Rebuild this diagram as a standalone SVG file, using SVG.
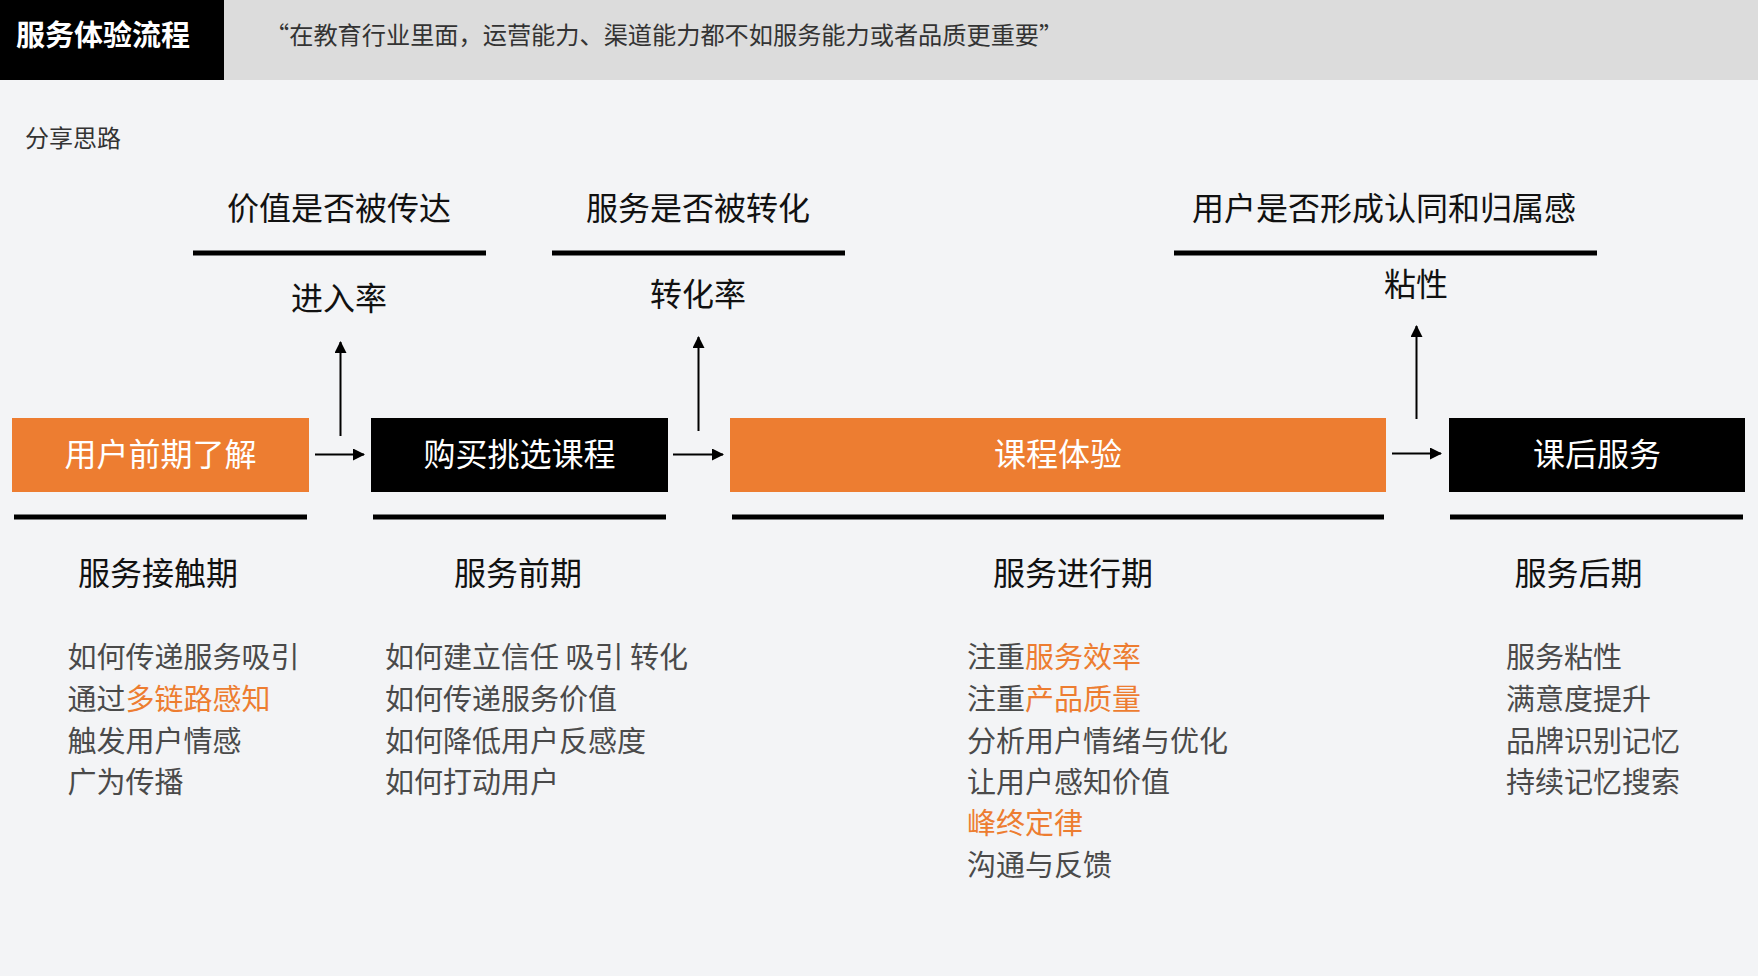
<svg xmlns="http://www.w3.org/2000/svg" width="1758" height="976" viewBox="0 0 1758 976">
<defs>
<style>
text{font-family:"Noto Sans CJK SC","Noto Sans",sans-serif;}
.t32{font-size:32px;fill:#111;text-anchor:middle;}
.box{font-size:32px;fill:#fff;text-anchor:middle;}
.li{font-size:29px;fill:#4a4a4a;}
.hl{fill:#ed7d31;}
.bar{fill:#000;}
.conn{stroke:#000;stroke-width:2;fill:none;marker-end:url(#ah);}
</style>
<marker id="ah" viewBox="0 0 12 12" refX="11" refY="6" markerWidth="12" markerHeight="12" markerUnits="userSpaceOnUse" orient="auto">
<path d="M0,0 L12,6 L0,12 Z" fill="#000"/>
</marker>
</defs>
<rect x="0" y="0" width="1758" height="976" fill="#f3f4f6"/>
<g id="header">
<rect x="0" y="0" width="1758" height="80" fill="#dcdcdc"/>
<rect x="0" y="0" width="224" height="80" fill="#000"/>
<text x="103" y="45.5" font-size="29" font-weight="bold" fill="#fff" text-anchor="middle">服务体验流程</text>
<text x="265" y="44" font-size="24.2" fill="#333">“在教育行业里面，运营能力、渠道能力都不如服务能力或者品质更重要”</text>
</g>
<g id="subtitle"><text x="25" y="146.5" font-size="24" fill="#333">分享思路</text></g>

<g id="metric1">
<text class="t32" x="339" y="219.5">价值是否被传达</text>
<rect class="bar" x="193" y="250.5" width="293" height="5"/>
<text class="t32" x="339" y="310">进入率</text>
</g>
<g id="metric2">
<text class="t32" x="698" y="219.5">服务是否被转化</text>
<rect class="bar" x="552" y="250.5" width="293" height="5"/>
<text class="t32" x="698" y="305.5">转化率</text>
</g>
<g id="metric3">
<text class="t32" x="1384" y="219.5">用户是否形成认同和归属感</text>
<rect class="bar" x="1174" y="250.5" width="423" height="5"/>
<text class="t32" x="1416" y="296">粘性</text>
</g>

<g id="connectors">
<line class="conn" x1="315" y1="454.5" x2="364" y2="454.5"/>
<line class="conn" x1="673" y1="454.5" x2="723" y2="454.5"/>
<line class="conn" x1="1392" y1="453.5" x2="1441" y2="453.5"/>
<line class="conn" x1="340.5" y1="436" x2="340.5" y2="342"/>
<line class="conn" x1="698.5" y1="431" x2="698.5" y2="337"/>
<line class="conn" x1="1416.5" y1="419" x2="1416.5" y2="326"/>
</g>

<g id="stage1">
<rect x="12" y="418" width="297" height="74" fill="#ed7d31"/>
<text class="box" x="160.5" y="465.5">用户前期了解</text>
</g>
<g id="stage2">
<rect x="371" y="418" width="297" height="74" fill="#000"/>
<text class="box" x="519.5" y="465.5">购买挑选课程</text>
</g>
<g id="stage3">
<rect x="730" y="418" width="656" height="74" fill="#ed7d31"/>
<text class="box" x="1058" y="465.5">课程体验</text>
</g>
<g id="stage4">
<rect x="1449" y="418" width="296" height="74" fill="#000"/>
<text class="box" x="1597" y="465.5">课后服务</text>
</g>

<g id="phase1">
<rect class="bar" x="14" y="514.5" width="293" height="5"/>
<text class="t32" x="158" y="585">服务接触期</text>
<text class="li" x="67.5" y="667.5">如何传递服务吸引</text>
<text class="li" x="67.5" y="709.5">通过<tspan class="hl">多链路感知</tspan></text>
<text class="li" x="67.5" y="751.5">触发用户情感</text>
<text class="li" x="67.5" y="792.5">广为传播</text>
</g>
<g id="phase2">
<rect class="bar" x="373" y="514.5" width="293" height="5"/>
<text class="t32" x="518" y="585">服务前期</text>
<text class="li" x="385" y="667.5">如何建立信任 吸引 转化</text>
<text class="li" x="385" y="709.5">如何传递服务价值</text>
<text class="li" x="385" y="751.5">如何降低用户反感度</text>
<text class="li" x="385" y="792.5">如何打动用户</text>
</g>
<g id="phase3">
<rect class="bar" x="732" y="514.5" width="652" height="5"/>
<text class="t32" x="1073" y="585">服务进行期</text>
<text class="li" x="967" y="667.5">注重<tspan class="hl">服务效率</tspan></text>
<text class="li" x="967" y="709.5">注重<tspan class="hl">产品质量</tspan></text>
<text class="li" x="967" y="751.5">分析用户情绪与优化</text>
<text class="li" x="967" y="792.5">让用户感知价值</text>
<text class="li hl" x="967" y="834">峰终定律</text>
<text class="li" x="967" y="875.5">沟通与反馈</text>
</g>
<g id="phase4">
<rect class="bar" x="1450" y="514.5" width="293" height="5"/>
<text class="t32" x="1578.5" y="585">服务后期</text>
<text class="li" x="1506" y="667.5">服务粘性</text>
<text class="li" x="1506" y="709.5">满意度提升</text>
<text class="li" x="1506" y="751.5">品牌识别记忆</text>
<text class="li" x="1506" y="792.5">持续记忆搜索</text>
</g>
</svg>
